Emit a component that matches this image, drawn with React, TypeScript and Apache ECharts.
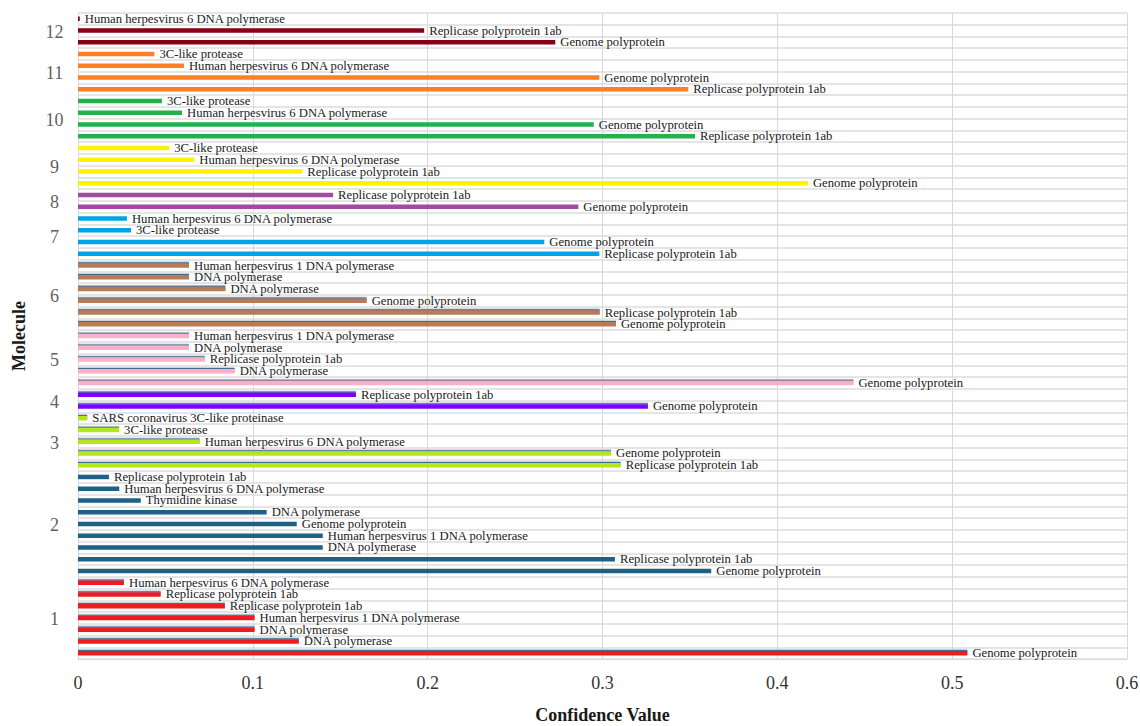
import { useEffect, useRef } from "react";
import * as echarts from "echarts";

// Hits per molecule, listed top to bottom as they appear in each block
const molecules = ["1", "2", "3", "4", "5", "6", "7", "8", "9", "10", "11", "12"];

const names1 = [
  "Human herpesvirus 6 DNA polymerase",
  "Replicase polyprotein 1ab",
  "Replicase polyprotein 1ab",
  "Human herpesvirus 1 DNA polymerase",
  "DNA polymerase",
  "DNA polymerase",
  "Genome polyprotein",
];
const values1 = [0.0263, 0.0473, 0.084, 0.101, 0.101, 0.1263, 0.5087];

const names2 = [
  "Replicase polyprotein 1ab",
  "Human herpesvirus 6 DNA polymerase",
  "Thymidine kinase",
  "DNA polymerase",
  "Genome polyprotein",
  "Human herpesvirus 1 DNA polymerase",
  "DNA polymerase",
  "Replicase polyprotein 1ab",
  "Genome polyprotein",
];
const values2 = [0.0177, 0.0236, 0.0359, 0.1079, 0.1251, 0.14, 0.14, 0.3071, 0.3622];

const names3 = [
  "SARS coronavirus 3C-like proteinase",
  "3C-like protease",
  "Human herpesvirus 6 DNA polymerase",
  "Genome polyprotein",
  "Replicase polyprotein 1ab",
];
const values3 = [0.0053, 0.0235, 0.0696, 0.3049, 0.3104];

const names4 = ["Replicase polyprotein 1ab", "Genome polyprotein"];
const values4 = [0.159, 0.326];

const names5 = [
  "Human herpesvirus 1 DNA polymerase",
  "DNA polymerase",
  "Replicase polyprotein 1ab",
  "DNA polymerase",
  "Genome polyprotein",
];
const values5 = [0.0635, 0.0635, 0.0725, 0.0896, 0.4435];

const names6 = [
  "Human herpesvirus 1 DNA polymerase",
  "DNA polymerase",
  "DNA polymerase",
  "Genome polyprotein",
  "Replicase polyprotein 1ab",
  "Genome polyprotein",
];
const values6 = [0.0635, 0.0635, 0.0843, 0.1651, 0.2984, 0.3077];

const names7 = [
  "Human herpesvirus 6 DNA polymerase",
  "3C-like protease",
  "Genome polyprotein",
  "Replicase polyprotein 1ab",
];
const values7 = [0.028, 0.0303, 0.2667, 0.2982];

const names8 = ["Replicase polyprotein 1ab", "Genome polyprotein"];
const values8 = [0.1459, 0.2862];

const names9 = [
  "3C-like protease",
  "Human herpesvirus 6 DNA polymerase",
  "Replicase polyprotein 1ab",
  "Genome polyprotein",
];
const values9 = [0.0522, 0.0665, 0.1283, 0.4175];

const names10 = [
  "3C-like protease",
  "Human herpesvirus 6 DNA polymerase",
  "Genome polyprotein",
  "Replicase polyprotein 1ab",
];
const values10 = [0.048, 0.0595, 0.295, 0.3529];

const names11 = [
  "3C-like protease",
  "Human herpesvirus 6 DNA polymerase",
  "Genome polyprotein",
  "Replicase polyprotein 1ab",
];
const values11 = [0.0437, 0.0606, 0.2982, 0.3491];

const names12 = [
  "Human herpesvirus 6 DNA polymerase",
  "Replicase polyprotein 1ab",
  "Genome polyprotein",
];
const values12 = [0.001, 0.198, 0.273];

const xTicks = [0, 0.1, 0.2, 0.3, 0.4, 0.5, 0.6];

const hitNames = [names1, names2, names3, names4, names5, names6, names7, names8, names9, names10, names11, names12];
const hitValues = [values1, values2, values3, values4, values5, values6, values7, values8, values9, values10, values11, values12];

// Styling
const moleculeColors = [
  "#ed1c24", "#1e6184", "#b5e61d", "#8000ff", "#ffaec9", "#b97a57",
  "#00a2e8", "#a349a4", "#fff200", "#22b14c", "#ff7f27", "#880015",
];
const edgedMolecules = ["1", "3", "4", "5", "6"];
const SERIF = "'Liberation Serif', 'Times New Roman', serif";

type Row = { name: string; value: number; group: number };

function buildRows() {
  const rows: Row[] = [];
  const centers: number[][] = [];
  molecules.forEach((_, gi) => {
    const names = hitNames[gi];
    const vals = hitValues[gi];
    const start = rows.length;
    // category axis runs bottom-up, so push each block in reverse
    for (let k = names.length - 1; k >= 0; k--) {
      rows.push({ name: names[k], value: vals[k], group: gi });
    }
    centers.push([0, start + names.length / 2]);
  });
  return { rows, centers };
}

export default function App() {
  const ref = useRef<HTMLDivElement>(null);

  useEffect(() => {
    if (!ref.current) return;
    const chart = echarts.init(ref.current, undefined, { renderer: "svg" });
    const { rows, centers } = buildRows();
    const rowIds = rows.map((_, i) => "row" + i);

    chart.setOption({
      animation: false,
      backgroundColor: "#ffffff",
      grid: {
        left: 78,
        right: 13,
        top: 13,
        bottom: 67,
        containLabel: false,
        outerBoundsMode: "none",
      },
      xAxis: {
        type: "value",
        min: xTicks[0],
        max: xTicks[xTicks.length - 1],
        interval: 0.1,
        name: "Confidence Value",
        nameLocation: "middle",
        nameGap: 47,
        nameTextStyle: {
          fontFamily: SERIF,
          fontWeight: "bold",
          fontSize: 18,
          lineHeight: 18,
          color: "#1a1a1a",
        },
        axisLine: { show: true, lineStyle: { color: "#d9d9d9", width: 1 } },
        axisTick: { show: false },
        axisLabel: {
          fontFamily: SERIF,
          fontSize: 18,
          color: "#333333",
          margin: 15,
          formatter: (v: number) => String(Math.round(v * 10) / 10),
        },
        splitLine: { show: true, lineStyle: { color: "#d9d9d9", width: 1 } },
      },
      yAxis: [
        {
          type: "category",
          data: rowIds,
          boundaryGap: true,
          name: "Molecule",
          nameLocation: "middle",
          nameGap: 50,
          nameTextStyle: { fontFamily: SERIF, fontWeight: "bold", fontSize: 18, color: "#1a1a1a" },
          axisLine: { show: false },
          axisTick: { show: false, interval: 0 },
          axisLabel: { show: false, interval: 0 },
          splitLine: { show: true, interval: 0, lineStyle: { color: "#dcdcdc", width: 1.5 } },
        },
        {
          type: "value",
          min: 0,
          max: rows.length,
          show: false,
        },
      ],
      series: [
        {
          type: "bar",
          yAxisIndex: 0,
          barWidth: 4.5,
          data: rows.map((r) => {
            const edged = edgedMolecules.includes(molecules[r.group]);
            return {
              value: r.value,
              itemStyle: edged
                ? {
                    color: moleculeColors[r.group],
                    shadowColor: "#3f6f8f",
                    shadowOffsetY: -1.3,
                    shadowBlur: 0,
                  }
                : { color: moleculeColors[r.group] },
            };
          }),
          label: {
            show: true,
            position: "right",
            distance: 5,
            fontFamily: SERIF,
            fontSize: 12.7,
            lineHeight: 11,
            color: "#1a1a1a",
            formatter: (p: any) => rows[p.dataIndex].name,
          },
          silent: true,
        },
        {
          type: "scatter",
          yAxisIndex: 1,
          symbolSize: 1,
          itemStyle: { color: "rgba(0,0,0,0)" },
          data: centers,
          label: {
            show: true,
            position: [-23, 1.5],
            align: "center",
            verticalAlign: "middle",
            fontFamily: SERIF,
            fontSize: 18,
            color: "#333333",
            formatter: (p: any) => molecules[p.dataIndex],
          },
          silent: true,
          clip: false,
        },
      ],
    });

    return () => chart.dispose();
  }, []);

  return (
    <div
      ref={ref}
      style={{ position: "fixed", left: 0, top: 0, width: 1140, height: 726, background: "#fff" }}
    />
  );
}
